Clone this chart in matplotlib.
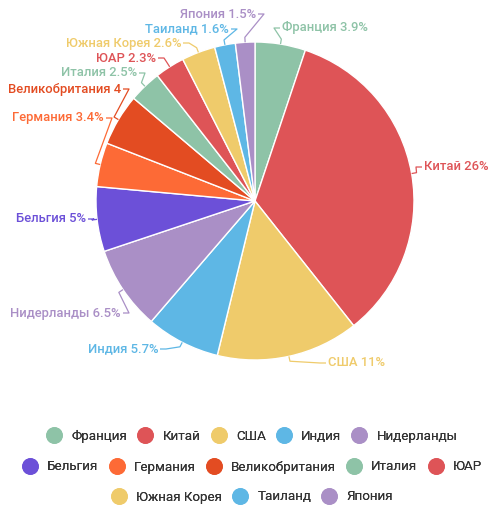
import matplotlib.pyplot as plt
from matplotlib.lines import Line2D
import numpy as np

plt.rcParams['font.family'] = ['Roboto', 'DejaVu Sans']

# данные
countries = ['Франция', 'Китай', 'США', 'Индия', 'Нидерланды', 'Бельгия', 'Германия',
             'Великобритания', 'Италия', 'ЮАР', 'Южная Корея', 'Таиланд', 'Япония']
values = [3.9, 26, 11, 5.7, 6.5, 5, 3.4, 4, 2.5, 2.3, 2.6, 1.6, 1.5]
labels = ['Франция 3.9%', 'Китай 26%', 'США 11%', 'Индия 5.7%', 'Нидерланды 6.5%',
          'Бельгия 5%', 'Германия 3.4%', 'Великобритания 4', 'Италия 2.5%', 'ЮАР 2.3%',
          'Южная Корея 2.6%', 'Таиланд 1.6%', 'Япония 1.5%']
colors = ['#8ec3a7', '#de5457', '#efcb6b', '#5eb7e5', '#aa8fc6', '#6c50d8', '#fd6a36',
          '#e34c22', '#8ec3a7', '#de5457', '#efcb6b', '#5eb7e5', '#aa8fc6']

# раскладка подписей (в пикселях, y сверху вниз)
label_pos = [(282, 28, 'left'), (424, 167, 'left'), (328, 363, 'left'), (158, 349, 'right'),
             (121, 313, 'right'), (86, 219, 'right'), (104, 118, 'right'), (121, 89, 'right'),
             (137, 73, 'right'), (156, 58, 'right'), (181, 43, 'right'), (229, 29, 'right'),
             (256, 14, 'right')]

W, H = 504, 523
cx, cy, R = 255, H - 201, 159

fig = plt.figure(figsize=(W / 100, H / 100), dpi=100)
ax = fig.add_axes([0, 0, 1, 1])

wedges, _ = ax.pie(values, colors=colors, startangle=90, counterclock=False,
                   center=(cx, cy), radius=R,
                   wedgeprops=dict(edgecolor='white', linewidth=1))

for w, lab, c, (tx, ty, ha) in zip(wedges, labels, colors, label_pos):
    ang = np.deg2rad((w.theta1 + w.theta2) / 2)
    ex, ey = cx + R * np.cos(ang), cy + R * np.sin(ang)
    ox, oy = cx + (R + 5) * np.cos(ang), cy + (R + 5) * np.sin(ang)
    ty = H - ty
    if ha == 'left':
        px = tx - 2
        kx = px - 6
    else:
        px = tx + 2
        kx = px + 6
    ax.plot([ex, ox, kx, px], [ey, oy, ty, ty], color=c, lw=0.9, solid_capstyle='butt')
    ax.text(tx, ty, lab, ha=ha, va='center', color=c, fontsize=9.4, fontweight='medium')

ax.set_xlim(0, W)
ax.set_ylim(0, H)
ax.set_aspect('equal')
ax.axis('off')

# легенда в три строки
rows = [range(0, 5), range(5, 10), range(10, 13)]
row_y = [436, 467, 497]
for idx, y in zip(rows, row_y):
    handles = [Line2D([], [], marker='o', linestyle='', markersize=11,
                      markerfacecolor=colors[i], markeredgecolor=colors[i]) for i in idx]
    leg = fig.legend(handles, [countries[i] for i in idx], loc='center',
                     bbox_to_anchor=(0.5, 1 - y / H), ncol=len(idx), frameon=False,
                     prop=dict(size=9.6, weight='normal'), handlelength=1.2,
                     handletextpad=0.7, columnspacing=0.75,
                     borderpad=0, labelcolor='#333333')
    fig.add_artist(leg)

fig.savefig('out.png', dpi=100)
